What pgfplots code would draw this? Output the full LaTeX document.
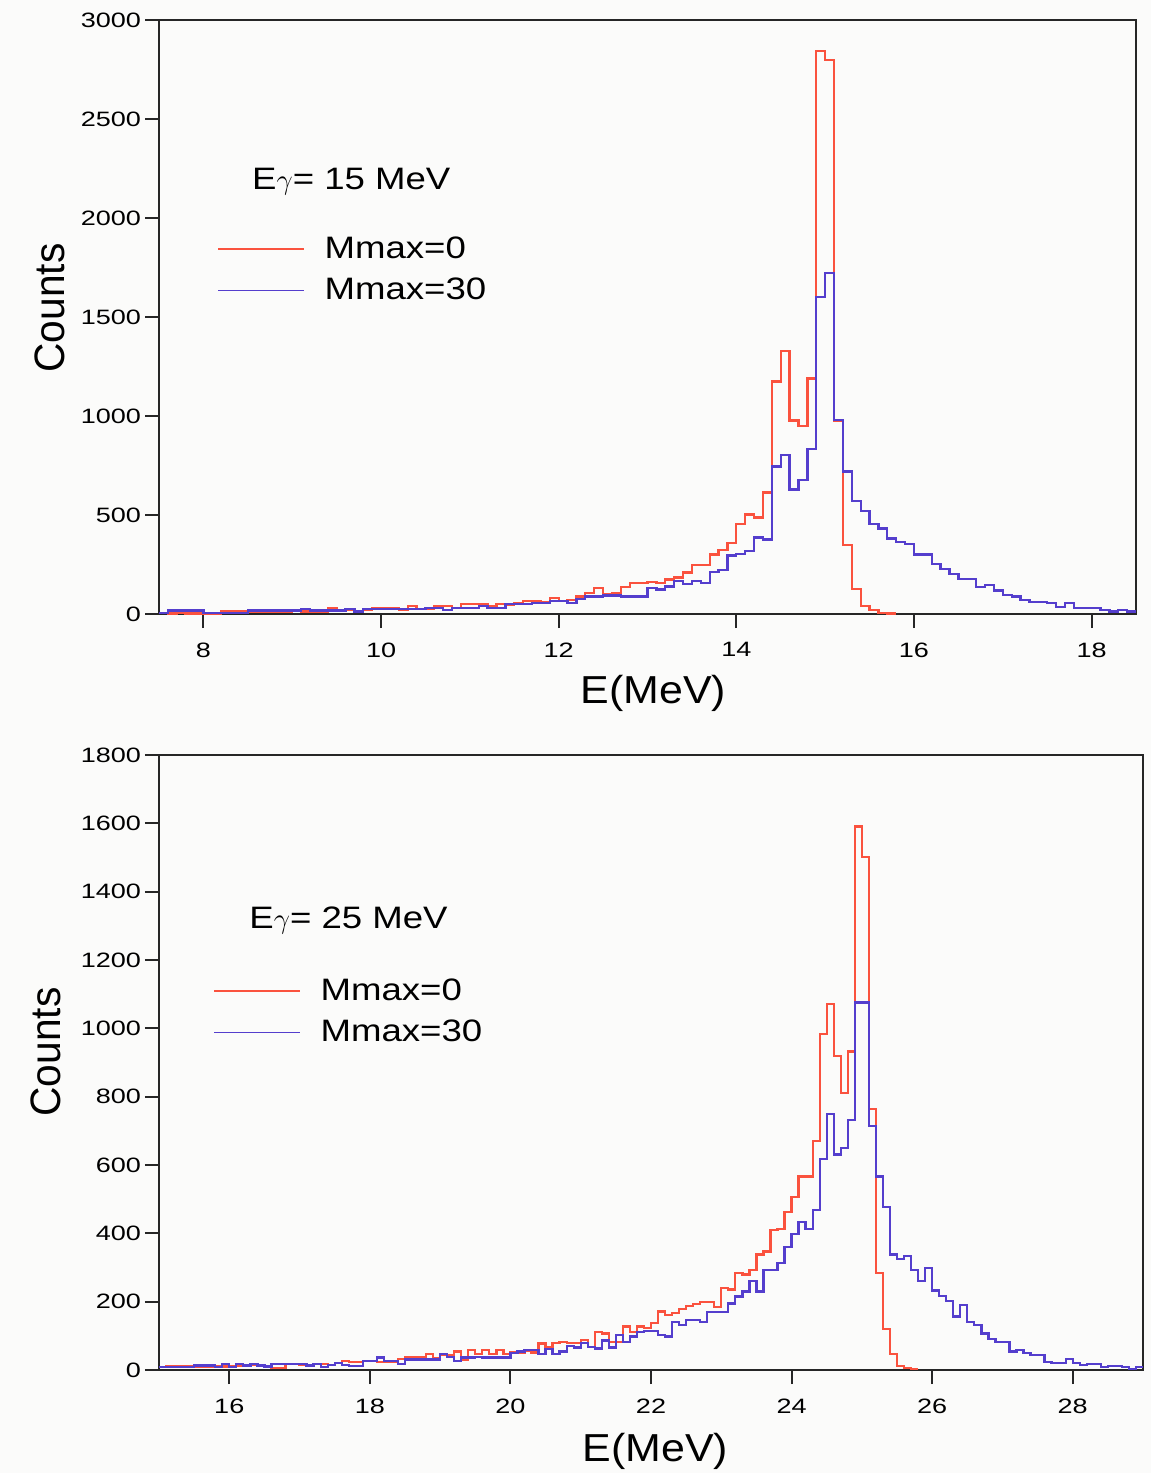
\documentclass[border=0pt]{standalone}
\usepackage{pgfplots}
\usepackage{pgfplotstable}
\pgfplotsset{compat=1.18}
\usepackage{fontspec}
\setmainfont{Liberation Sans}
\newfontfamily\tickfont[FakeStretch=1.3]{Liberation Sans}
\newfontfamily\labfont[FakeStretch=1.1]{Liberation Sans}
\newfontfamily\legfont[FakeStretch=1.18]{Liberation Sans}

\definecolor{histred}{RGB}{250,82,62}
\definecolor{histblue}{RGB}{84,62,205}
\definecolor{pagebg}{RGB}{251,251,250}

% Spectra, E_gamma = 15 MeV (left bin edge, counts)
\pgfplotstableread{
E C
7.5 5
7.6 3
7.7 5
7.8 2
7.9 2
8.0 2
8.1 2
8.2 13
8.3 13
8.4 13
8.5 10
8.6 10
8.7 10
8.8 10
8.9 10
9.0 20
9.1 12
9.2 12
9.3 12
9.4 30
9.5 20
9.6 20
9.7 12
9.8 20
9.9 30
10.0 30
10.1 30
10.2 20
10.3 40
10.4 27
10.5 27
10.6 39
10.7 39
10.8 30
10.9 49
11.0 49
11.1 49
11.2 39
11.3 49
11.4 45
11.5 56
11.6 64
11.7 64
11.8 59
11.9 81
12.0 66
12.1 72
12.2 89
12.3 106
12.4 130
12.5 98
12.6 106
12.7 136
12.8 157
12.9 157
13.0 163
13.1 156
13.2 174
13.3 184
13.4 209
13.5 246
13.6 246
13.7 300
13.8 323
13.9 358
14.0 455
14.1 503
14.2 488
14.3 614
14.4 1175
14.5 1330
14.6 977
14.7 948
14.8 1190
14.9 2845
15.0 2797
15.1 975
15.2 350
15.3 126
15.4 39
15.5 19
15.6 6
15.7 2
15.8 2
}\redA

\pgfplotstableread{
E C
7.5 5
7.6 17
7.7 17
7.8 17
7.9 17
8.0 5
8.1 5
8.2 5
8.3 5
8.4 5
8.5 17
8.6 17
8.7 17
8.8 17
8.9 17
9.0 17
9.1 24
9.2 17
9.3 17
9.4 17
9.5 17
9.6 24
9.7 13
9.8 24
9.9 24
10.0 24
10.1 24
10.2 24
10.3 24
10.4 24
10.5 30
10.6 30
10.7 22
10.8 30
10.9 30
11.0 30
11.1 40
11.2 30
11.3 30
11.4 49
11.5 49
11.6 49
11.7 57
11.8 57
11.9 66
12.0 66
12.1 57
12.2 76
12.3 89
12.4 89
12.5 94
12.6 94
12.7 89
12.8 89
12.9 89
13.0 131
13.1 124
13.2 139
13.3 165
13.4 151
13.5 165
13.6 155
13.7 213
13.8 223
13.9 296
14.0 304
14.1 319
14.2 387
14.3 377
14.4 745
14.5 803
14.6 629
14.7 677
14.8 832
14.9 1600
15.0 1723
15.1 981
15.2 720
15.3 571
15.4 519
15.5 455
15.6 432
15.7 381
15.8 365
15.9 355
16.0 300
16.1 300
16.2 252
16.3 227
16.4 202
16.5 177
16.6 177
16.7 138
16.8 147
16.9 118
17.0 96
17.1 88
17.2 71
17.3 62
17.4 62
17.5 57
17.6 37
17.7 54
17.8 29
17.9 29
18.0 29
18.1 20
18.2 12
18.3 20
18.4 12
18.5 12
}\blueA

% Spectra, E_gamma = 25 MeV
\pgfplotstableread{
E C
15.0 8
15.1 12
15.2 12
15.3 10
15.4 10
15.5 10
15.6 10
15.7 10
15.8 10
15.9 10
16.0 12
16.1 12
16.2 15
16.3 15
16.4 12
16.5 10
16.6 5
16.7 5
16.8 17
16.9 17
17.0 15
17.1 15
17.2 17
17.3 17
17.4 15
17.5 21
17.6 27
17.7 24
17.8 24
17.9 26
18.0 26
18.1 23
18.2 23
18.3 23
18.4 32
18.5 37
18.6 37
18.7 37
18.8 47
18.9 34
19.0 44
19.1 44
19.2 54
19.3 29
19.4 59
19.5 47
19.6 59
19.7 47
19.8 59
19.9 47
20.0 51
20.1 51
20.2 56
20.3 51
20.4 78
20.5 68
20.6 80
20.7 83
20.8 80
20.9 80
21.0 88
21.1 68
21.2 112
21.3 107
21.4 83
21.5 83
21.6 127
21.7 112
21.8 127
21.9 122
22.0 137
22.1 171
22.2 161
22.3 166
22.4 178
22.5 187
22.6 193
22.7 200
22.8 200
22.9 185
23.0 240
23.1 236
23.2 284
23.3 280
23.4 293
23.5 338
23.6 347
23.7 410
23.8 412
23.9 463
24.0 506
24.1 566
24.2 566
24.3 670
24.4 983
24.5 1072
24.6 919
24.7 810
24.8 932
24.9 1591
25.0 1501
25.1 764
25.2 284
25.3 121
25.4 46
25.5 11
25.6 5
25.7 2
25.8 2
}\redB

\pgfplotstableread{
E C
15.0 8
15.1 8
15.2 8
15.3 8
15.4 8
15.5 13
15.6 13
15.7 13
15.8 8
15.9 18
16.0 8
16.1 18
16.2 13
16.3 18
16.4 13
16.5 10
16.6 17
16.7 17
16.8 17
16.9 17
17.0 17
17.1 13
17.2 17
17.3 8
17.4 15
17.5 20
17.6 15
17.7 12
17.8 12
17.9 27
18.0 27
18.1 37
18.2 27
18.3 27
18.4 18
18.5 31
18.6 31
18.7 31
18.8 31
18.9 31
19.0 47
19.1 39
19.2 27
19.3 37
19.4 37
19.5 39
19.6 37
19.7 37
19.8 37
19.9 37
20.0 49
20.1 54
20.2 59
20.3 59
20.4 47
20.5 61
20.6 47
20.7 54
20.8 70
20.9 66
21.0 80
21.1 68
21.2 63
21.3 86
21.4 66
21.5 102
21.6 83
21.7 98
21.8 112
21.9 115
22.0 115
22.1 102
22.2 98
22.3 141
22.4 132
22.5 146
22.6 146
22.7 141
22.8 169
22.9 169
23.0 169
23.1 195
23.2 215
23.3 230
23.4 260
23.5 230
23.6 293
23.7 293
23.8 314
23.9 360
24.0 398
24.1 434
24.2 412
24.3 468
24.4 618
24.5 750
24.6 631
24.7 650
24.8 732
24.9 1076
25.0 1076
25.1 715
25.2 566
25.3 477
25.4 338
25.5 325
25.6 334
25.7 293
25.8 260
25.9 298
26.0 233
26.1 217
26.2 201
26.3 157
26.4 190
26.5 141
26.6 132
26.7 107
26.8 91
26.9 81
27.0 81
27.1 54
27.2 59
27.3 49
27.4 44
27.5 44
27.6 24
27.7 20
27.8 20
27.9 32
28.0 20
28.1 15
28.2 18
28.3 18
28.4 8
28.5 12
28.6 12
28.7 8
28.8 2
28.9 8
29.0 8
}\blueB

\pgfplotsset{
  spectrum/.style={
    scale only axis,
    axis line style={black!85, line width=1pt},
    tick style={black!85, line width=1pt},
    tick align=outside,
    major tick length=7pt,
    tick pos=left,
    xticklabel style={font=\tickfont\fontsize{10.4}{11}\selectfont, yshift=-3.8pt},
    yticklabel style={font=\tickfont\fontsize{10.4}{11}\selectfont, xshift=1.5pt},
    /pgf/number format/assume math mode=true,
    /pgf/number format/set thousands separator={},
    xlabel style={font=\labfont\fontsize{19.5}{20}\selectfont, anchor=center},
    ylabel style={font=\labfont\fontsize{18.5}{20}\selectfont, anchor=center, rotate=0},
    legend style={draw=none, fill=none, inner sep=0pt, row sep=8.3pt, column sep=10pt,
      font=\legfont\fontsize{15.5}{16}\selectfont,
      nodes={inner sep=0pt}, cells={anchor=west}},
    legend image code/.code={\draw[#1, line width=0.6pt] (0pt,0pt) -- (43pt,0pt);},
  },
  histo/.style={const plot mark left, no marks, line width=1.15pt},
}

\begin{document}
\begin{tikzpicture}
\fill[pagebg] (0pt,0pt) rectangle (575.5pt,-736.5pt);
\useasboundingbox (0pt,0pt) rectangle (575.5pt,-736.5pt);

\begin{axis}[spectrum,
  at={(79.5pt,-10pt)}, anchor=north west,
  width=488.5pt, height=297pt,
  xmin=7.5, xmax=18.5, ymin=0, ymax=3000,
  xtick={8,10,...,18}, ytick={0,500,...,3000},
  xlabel={E(MeV)}, ylabel={\scalebox{1}[1.15]{Counts}},
  xlabel style={at={(axis description cs:0.506,-0.134)}},
  ylabel style={at={(axis description cs:-0.1116,0.515)}},
  legend style={at={(axis description cs:0.0594,0.636)}, anchor=north west},
]
\addplot[histo, histred] table[x=E, y=C] {\redA};
\addlegendentry{Mmax=0}
\addplot[histo, histblue] table[x=E, y=C] {\blueA};
\addlegendentry{Mmax=30}
\node[anchor=west, inner sep=0pt, font=\legfont\fontsize{15.5}{16}\selectfont]
  at (axis description cs:0.095,0.728) {E$\gamma$= 15 MeV};
\end{axis}

\begin{axis}[spectrum,
  at={(79.5pt,-377.5pt)}, anchor=north west,
  width=492pt, height=307.5pt,
  xmin=15, xmax=29, ymin=0, ymax=1800,
  xtick={16,18,...,28}, ytick={0,200,...,1800},
  xlabel={E(MeV)}, ylabel={\scalebox{1}[1.15]{Counts}},
  xlabel style={at={(axis description cs:0.5045,-0.133)}},
  ylabel style={at={(axis description cs:-0.115,0.517)}},
  legend style={at={(axis description cs:0.0549,0.637)}, anchor=north west},
]
\addplot[histo, histred] table[x=E, y=C] {\redB};
\addlegendentry{Mmax=0}
\addplot[histo, histblue] table[x=E, y=C] {\blueB};
\addlegendentry{Mmax=30}
\node[anchor=west, inner sep=0pt, font=\legfont\fontsize{15.5}{16}\selectfont]
  at (axis description cs:0.0915,0.731) {E$\gamma$= 25 MeV};
\end{axis}
\end{tikzpicture}
\end{document}
